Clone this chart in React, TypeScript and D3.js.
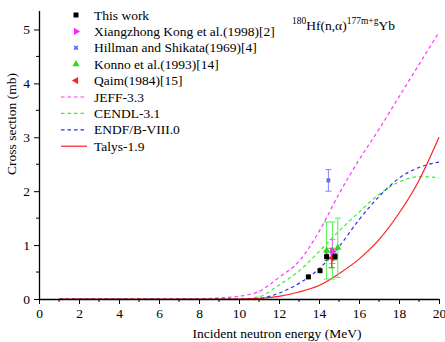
import React, { useRef, useEffect } from 'react';
import * as d3 from 'd3';

// evaluated curves (energy in MeV, cross section in mb)
const energyGrid = [1, 6, 8, 9, 10, 11, 12, 13, 14, 15, 16, 17, 18, 19, 20];
const jeff = [0, 0, 0.0, 0.02, 0.05, 0.14, 0.4, 0.7, 1.25, 1.95, 2.58, 3.15, 3.75, 4.35, 4.95];
const cendl = [0, 0, 0, 0, 0, 0.04, 0.26, 0.52, 0.88, 1.26, 1.61, 1.94, 2.17, 2.27, 2.25];
const endf = [0, 0, 0, 0, 0, 0.01, 0.11, 0.29, 0.56, 0.97, 1.47, 1.9, 2.24, 2.44, 2.54];
const talys = [0, 0, 0, 0, 0, 0.01, 0.05, 0.13, 0.25, 0.47, 0.74, 1.1, 1.59, 2.2, 3.0];

// experimental points
const thisWorkE = [13.47, 14.05, 14.38, 14.8];
const thisWorkS = [0.41, 0.525, 0.785, 0.785];
const thisWorkErr = [0.03, 0.03, 0.07, 0.06];

const kongE = [14.67];
const kongS = [0.88];
const kongErr = [0.22];

const hillmanE = [14.47];
const hillmanS = [2.2];
const hillmanErr = [0.2];

const konnoE = [14.38, 14.67, 14.94];
const konnoS = [0.9, 0.9, 0.95];
const konnoErr = [0.53, 0.53, 0.55];

const qaimE = [14.63];
const qaimS = [0.76];
const qaimErr = [0.18];

const xTicks = [0, 2, 4, 6, 8, 10, 12, 14, 16, 18, 20];
const yTicks = [0, 1, 2, 3, 4, 5];

const App = () => {
  const svgRef = useRef(null);
  const width = 445;
  const height = 342;

  useEffect(() => {
    const svg = d3.select(svgRef.current);
    svg.selectAll('*').remove();
    const font = "'Liberation Serif', 'Times New Roman', serif";

    const x = d3.scaleLinear().domain([0, 20]).range([39, 439]);
    const y = d3.scaleLinear().domain([0, 5.35]).range([299, 10.6]);

    // curves
    const line = d3.line<number>()
      .x((d, i) => x(energyGrid[i]))
      .y(d => y(d))
      .curve(d3.curveMonotoneX);

    const curves = [
      { vals: jeff, color: '#ff33ff', dash: '3.5,3', name: 'JEFF-3.3' },
      { vals: cendl, color: '#33ee33', dash: '3.5,3', name: 'CENDL-3.1' },
      { vals: endf, color: '#2233ee', dash: '3.5,3', name: 'ENDF/B-VIII.0' },
      { vals: talys, color: '#ff2020', dash: null, name: 'Talys-1.9' },
    ];

    curves.forEach(c => {
      svg.append('path')
        .attr('d', line(c.vals))
        .attr('fill', 'none')
        .attr('stroke', c.color)
        .attr('stroke-width', 1.2)
        .attr('stroke-dasharray', c.dash);
    });

    // axes
    const xAxis = svg.append('g').attr('transform', `translate(0, ${y(0)})`);
    xAxis.call(d3.axisBottom(x).tickValues(xTicks).tickFormat(d3.format('d')).tickSize(5).tickPadding(4).tickSizeOuter(0));
    xAxis.append('g').selectAll('line')
      .data(d3.range(1, 20, 2))
      .enter().append('line')
      .attr('x1', d => x(d)).attr('x2', d => x(d))
      .attr('y1', 0).attr('y2', 3)
      .attr('stroke', '#000');

    const yAxis = svg.append('g').attr('transform', `translate(${x(0)}, 0)`);
    yAxis.call(d3.axisLeft(y).tickValues(yTicks).tickFormat(d3.format('d')).tickSize(5).tickPadding(4).tickSizeOuter(0));
    yAxis.append('g').selectAll('line')
      .data([0.5, 1.5, 2.5, 3.5, 4.5])
      .enter().append('line')
      .attr('y1', d => y(d)).attr('y2', d => y(d))
      .attr('x1', 0).attr('x2', -3)
      .attr('stroke', '#000');

    xAxis.attr('font-family', null).attr('font-size', null);
    yAxis.attr('font-family', null).attr('font-size', null);
    svg.selectAll('.domain').attr('stroke-width', 1.3);
    svg.selectAll('.tick text')
      .style('font-family', font)
      .style('font-size', '13.5px')
      .attr('fill', '#000');

    svg.append('text')
      .attr('x', 277).attr('y', 338)
      .attr('text-anchor', 'middle')
      .style('font-family', font).style('font-size', '13.5px')
      .text('Incident neutron energy (MeV)');

    svg.append('text')
      .attr('transform', 'translate(16, 124) rotate(-90)')
      .attr('text-anchor', 'middle')
      .style('font-family', font).style('font-size', '13.5px')
      .text('Cross section (mb)');

    // error bars
    const errBars = (es, ss, errs, color, cap) => {
      es.forEach((e, i) => {
        const g = svg.append('g').attr('stroke', color).attr('stroke-width', 1);
        g.append('line').attr('x1', x(e)).attr('x2', x(e))
          .attr('y1', y(ss[i] - errs[i])).attr('y2', y(ss[i] + errs[i]));
        [ss[i] - errs[i], ss[i] + errs[i]].forEach(v => {
          g.append('line').attr('x1', x(e) - cap).attr('x2', x(e) + cap)
            .attr('y1', y(v)).attr('y2', y(v));
        });
      });
    };

    errBars(konnoE, konnoS, konnoErr, '#55ee55', 3);
    errBars(hillmanE, hillmanS, hillmanErr, '#7788ff', 3);
    errBars(kongE, kongS, kongErr, '#ee66ee', 3);
    errBars(qaimE, qaimS, qaimErr, '#ee3333', 3);
    errBars(thisWorkE, thisWorkS, thisWorkErr, '#666', 2);

    const tri = d3.symbol().type(d3.symbolTriangle).size(22);

    // markers
    konnoE.forEach((e, i) => {
      svg.append('path').attr('d', tri())
        .attr('transform', `translate(${x(e)}, ${y(konnoS[i])})`)
        .attr('fill', '#22dd22');
    });
    hillmanE.forEach((e, i) => {
      svg.append('path').attr('d', d3.symbol().type(d3.symbolCross).size(14)())
        .attr('transform', `translate(${x(e)}, ${y(hillmanS[i])}) rotate(45)`)
        .attr('fill', '#5566ff');
    });
    kongE.forEach((e, i) => {
      svg.append('path').attr('d', tri())
        .attr('transform', `translate(${x(e)}, ${y(kongS[i])}) rotate(90)`)
        .attr('fill', '#ff22ff');
    });
    qaimE.forEach((e, i) => {
      svg.append('path').attr('d', tri())
        .attr('transform', `translate(${x(e)}, ${y(qaimS[i])}) rotate(-90)`)
        .attr('fill', '#ff2222');
    });
    thisWorkE.forEach((e, i) => {
      svg.append('rect')
        .attr('x', x(e) - 2.5).attr('y', y(thisWorkS[i]) - 2.5)
        .attr('width', 5).attr('height', 5)
        .attr('fill', '#000');
    });

    // legend
    const legend = svg.append('g').style('font-family', font).style('font-size', '13.5px');
    const rowY = i => 15 + i * 16.4;
    const symbols = [
      { name: 'This work', draw: g => g.append('rect').attr('x', -2.5).attr('y', -2.5).attr('width', 5).attr('height', 5).attr('fill', '#000') },
      { name: 'Xiangzhong Kong et al.(1998)[2]', draw: g => g.append('path').attr('d', tri()).attr('transform', 'rotate(90)').attr('fill', '#ff22ff') },
      { name: 'Hillman and Shikata(1969)[4]', draw: g => g.append('path').attr('d', d3.symbol().type(d3.symbolCross).size(14)()).attr('transform', 'rotate(45)').attr('fill', '#5566ff') },
      { name: 'Konno et al.(1993)[14]', draw: g => g.append('path').attr('d', tri()).attr('fill', '#22dd22') },
      { name: 'Qaim(1984)[15]', draw: g => g.append('path').attr('d', tri()).attr('transform', 'rotate(-90)').attr('fill', '#ff2222') },
    ];
    symbols.forEach((s, i) => {
      const g = legend.append('g').attr('transform', `translate(76, ${rowY(i)})`);
      s.draw(g);
      legend.append('text').attr('x', 94).attr('y', rowY(i) + 4.5).text(s.name);
    });
    curves.forEach((c, j) => {
      const i = j + 5;
      legend.append('line')
        .attr('x1', 61).attr('x2', 87)
        .attr('y1', rowY(i)).attr('y2', rowY(i))
        .attr('stroke', c.color).attr('stroke-width', 1.2)
        .attr('stroke-dasharray', c.dash);
      legend.append('text').attr('x', 94).attr('y', rowY(i) + 4.5).text(c.name);
    });

    // reaction label
    const title = svg.append('text')
      .attr('x', 292).attr('y', 30)
      .style('font-family', font).style('font-size', '13.5px');
    title.append('tspan').style('font-size', '9.5px').attr('dy', -6).text('180');
    title.append('tspan').attr('dy', 6).text('Hf(n,α)');
    title.append('tspan').style('font-size', '9.5px').attr('dy', -6).text('177m+g');
    title.append('tspan').attr('dy', 6).text('Yb');
  }, []);

  return (
    <svg ref={svgRef} width={width} height={height}
      style={{ position: 'absolute', left: 0, top: 0, background: '#fff' }} />
  );
};

export default App;
